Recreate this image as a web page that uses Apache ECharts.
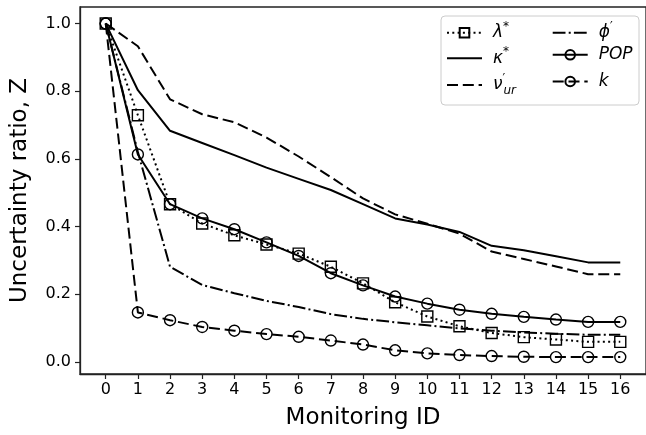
<!DOCTYPE html>
<html>
<head>
<meta charset="utf-8">
<script src="https://cdn.jsdelivr.net/npm/echarts@6/dist/echarts.min.js"></script>
<style>
  html, body { margin: 0; padding: 0; background: #fff; }
  #chart { width: 646px; height: 435px; }
</style>
</head>
<body>
<div id="chart"></div>
<script>
// Monitoring IDs (x axis) and tick values
const monitoringIds = [0, 1, 2, 3, 4, 5, 6, 7, 8, 9, 10, 11, 12, 13, 14, 15, 16];
const yTicks = [0.0, 0.2, 0.4, 0.6, 0.8, 1.0];

// Uncertainty ratio Z per monitoring ID
const lambdaStar = [1.0, 0.729, 0.466, 0.409, 0.374, 0.347, 0.320, 0.281, 0.232, 0.176, 0.134, 0.105, 0.085, 0.073, 0.066, 0.059, 0.059];
const kappaStar  = [1.0, 0.803, 0.683, 0.647, 0.611, 0.574, 0.541, 0.508, 0.466, 0.424, 0.406, 0.384, 0.343, 0.330, 0.312, 0.294, 0.294];
const nuUr       = [1.0, 0.933, 0.776, 0.732, 0.708, 0.663, 0.607, 0.546, 0.483, 0.436, 0.408, 0.379, 0.326, 0.304, 0.282, 0.259, 0.259];
const phiPrime   = [1.0, 0.620, 0.281, 0.227, 0.203, 0.180, 0.162, 0.141, 0.127, 0.117, 0.108, 0.099, 0.092, 0.087, 0.083, 0.080, 0.080];
const pop        = [1.0, 0.613, 0.466, 0.424, 0.392, 0.353, 0.313, 0.262, 0.226, 0.193, 0.172, 0.154, 0.142, 0.133, 0.125, 0.118, 0.118];
const kValues    = [1.0, 0.146, 0.123, 0.103, 0.092, 0.082, 0.074, 0.063, 0.051, 0.034, 0.025, 0.020, 0.017, 0.015, 0.014, 0.014, 0.014];

const FONT = 'DejaVu Sans';
const LW = 2;
const DASHED = [11, 4.8];
const DOTTED = [2, 3.3];
const DASHDOT = [12.8, 3.2, 2, 3.2];

const pairs = vals => monitoringIds.map((x, i) => [x, vals[i]]);

function makeSeries(name, vals, dash, symbol) {
  return {
    name: name,
    type: 'line',
    data: pairs(vals),
    symbol: symbol || 'none',
    symbolSize: 11,
    showAllSymbol: true,
    lineStyle: { color: '#000', width: LW, type: dash, cap: 'butt' },
    itemStyle: { color: 'rgba(0,0,0,0)', borderColor: '#000', borderWidth: 1.4 },
    emphasis: { disabled: true },
    silent: true,
    z: 2
  };
}

const series = [
  makeSeries('λ*', lambdaStar, DOTTED, 'rect'),
  makeSeries('κ*', kappaStar, 'solid'),
  makeSeries('ν′ur', nuUr, DASHED),
  makeSeries('ϕ′', phiPrime, DASHDOT),
  makeSeries('POP', pop, 'solid', 'circle'),
  makeSeries('k', kValues, DASHED, 'circle')
];
const withMarkers = { 'λ*': true, 'POP': true, 'k': true };

// legend labels with math-style super/subscripts
const legendLabel = {
  'λ*': '{m|λ}{sup|*}',
  'κ*': '{m|κ}{sup|*}',
  'ν′ur': '{m|ν}{pr|′}{sub|ur}',
  'ϕ′': '{m|ϕ}{sup|′}',
  'POP': '{m|POP}',
  'k': '{m|k}'
};

const legendRich = {
  m: { fontFamily: FONT, fontStyle: 'italic', fontSize: 17, color: '#000', lineHeight: 24, padding: [0, 0, 0, 6], verticalAlign: 'middle' },
  sup: { fontFamily: FONT, fontSize: 12, color: '#000', lineHeight: 12, verticalAlign: 'top' },
  pr: { fontFamily: FONT, fontSize: 12, color: '#000', lineHeight: 12, verticalAlign: 'top', width: 1 },
  sub: { fontFamily: FONT, fontStyle: 'italic', fontSize: 12, color: '#000', lineHeight: 12, verticalAlign: 'bottom' }
};

const legendCols = [446, 551.7];
const legendRows = [32.7, 58.3, 85];
const legendOrder = [['λ*', 'κ*', 'ν′ur'], ['ϕ′', 'POP', 'k']];
const legends = [];
legendOrder.forEach((col, ci) => {
  col.forEach((name, ri) => {
    const item = { name: name };
    if (!withMarkers[name]) {
      // plain line handle, no marker
      item.itemStyle = { color: 'rgba(0,0,0,0)', borderWidth: 0, borderColor: 'rgba(0,0,0,0)' };
    }
    legends.push({
      data: [item],
      left: legendCols[ci],
      top: legendRows[ri] - 12,
      padding: 0,
      itemWidth: 35,
      itemHeight: 12,
      selectedMode: false,
      z: 5,
      formatter: n => legendLabel[n],
      textStyle: { rich: legendRich, fontFamily: FONT }
    });
  });
});

const chart = echarts.init(document.getElementById('chart'), null, { renderer: 'canvas' });
chart.setOption({
  animation: false,
  backgroundColor: '#fff',
  grid: {
    left: 80, top: 7, width: 567.5, height: 368,
    show: true, borderColor: '#222', borderWidth: 1.3, backgroundColor: 'transparent',
    containLabel: false
  },
  xAxis: {
    type: 'value',
    min: -0.8, max: 16.8,
    name: 'Monitoring ID',
    nameLocation: 'middle',
    nameGap: 33,
    nameTextStyle: { fontFamily: FONT, fontSize: 23, color: '#000' },
    axisLine: { show: true, onZero: false, lineStyle: { color: '#222', width: 1.3 } },
    axisTick: { show: true, length: 5, lineStyle: { color: '#222', width: 1.2 }, customValues: monitoringIds },
    axisLabel: { fontFamily: FONT, fontSize: 16, color: '#000', margin: 8, customValues: monitoringIds },
    splitLine: { show: false }
  },
  yAxis: {
    type: 'value',
    min: -0.036, max: 1.049,
    name: 'Uncertainty ratio, Z',
    nameLocation: 'middle',
    nameGap: 48,
    nameTextStyle: { fontFamily: FONT, fontSize: 23, color: '#000' },
    axisLine: { show: true, onZero: false, lineStyle: { color: '#222', width: 1.3 } },
    axisTick: { show: true, length: 5, lineStyle: { color: '#222', width: 1.2 }, customValues: yTicks },
    axisLabel: { fontFamily: FONT, fontSize: 16, color: '#000', margin: 9, customValues: yTicks, formatter: v => v.toFixed(1) },
    splitLine: { show: false }
  },
  legend: legends,
  graphic: [{
    type: 'rect',
    shape: { x: 441, y: 16, width: 198, height: 89, r: 4 },
    style: { fill: 'rgba(255,255,255,0.8)', stroke: '#cccccc', lineWidth: 1 },
    z: 4,
    silent: true
  }],
  series: series
});
</script>
</body>
</html>
